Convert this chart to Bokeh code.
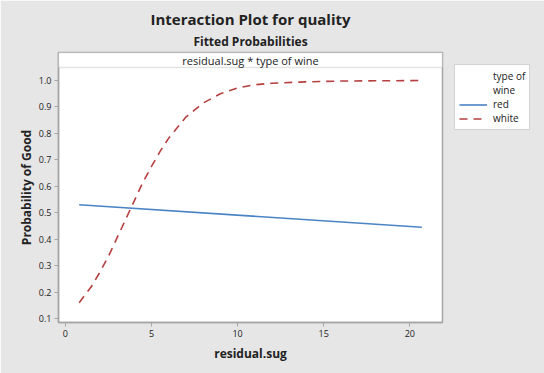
from bokeh.plotting import figure
from bokeh.models import (Legend, LegendItem, Label, BoxAnnotation, FixedTicker, Title, Range1d,
                          NumeralTickFormatter)
from bokeh.embed import file_html
from bokeh.resources import INLINE

# data
red_x = [0.8, 20.7]
red_y = [0.530, 0.445]
white_x = [0.8, 1.5, 2.0, 2.5, 3.0, 3.5, 4.0, 4.5, 5.0, 5.5, 6.0, 7.0, 8.0, 9.0, 10.0, 11.0, 12.0, 14.0, 16.0, 18.0, 20.7]
white_y = [0.160, 0.220, 0.275, 0.335, 0.405, 0.475, 0.545, 0.615, 0.675, 0.732, 0.782, 0.862, 0.915, 0.950, 0.972, 0.984, 0.990, 0.995, 0.998, 0.999, 1.000]
x_ticks = [0, 5, 10, 15, 20]
y_ticks = [0.1, 0.2, 0.3, 0.4, 0.5, 0.6, 0.7, 0.8, 0.9, 1.0]
legend_title_lines = ["type of", "wine"]

FONT = "Open Sans"
BG = "#e6e6e6"
GRID = "#a6a6a6"

p = figure(frame_width=384, frame_height=270, output_backend="svg", toolbar_location=None,
           x_range=Range1d(-0.4, 21.9), y_range=Range1d(0.085, 1.106),
           min_border_left=58, min_border_right=5, min_border_top=52, min_border_bottom=51)
p.background_fill_color = "white"
p.border_fill_color = BG
p.outline_line_color = GRID
p.outline_line_width = 1.5
p.grid.visible = False

# strip header inside frame
p.add_layout(BoxAnnotation(bottom=1.049, fill_color="white", fill_alpha=1,
                           line_color=GRID, line_width=1.5))
p.add_layout(Label(x=10.75, y=1.077, text="residual.sug * type of wine",
                   text_align="center", text_baseline="middle",
                   text_font=FONT, text_font_size="11px", text_color="#222222"))

r_red = p.line(red_x, red_y, line_color="#4a84c4", line_width=1.6)
r_white = p.line(white_x, white_y, line_color="#b5403f", line_width=1.6, line_dash="8 6")
r_blank = p.line(x=[], y=[], line_alpha=0)

for ax in (p.xaxis[0], p.yaxis[0]):
    ax.axis_line_color = GRID
    ax.axis_line_width = 1.5
    ax.major_tick_line_color = GRID
    ax.major_tick_in = 0
    ax.major_tick_out = 4
    ax.minor_tick_line_color = None
    ax.major_label_text_font = FONT
    ax.major_label_text_font_size = "9px"
    ax.major_label_text_color = "#222222"
    ax.axis_label_text_font = FONT
    ax.axis_label_text_font_size = "12px"
    ax.axis_label_text_font_style = "bold"
    ax.axis_label_text_color = "#222222"
    ax.major_label_standoff = 3

p.xaxis.ticker = FixedTicker(ticks=x_ticks)
p.yaxis.ticker = FixedTicker(ticks=y_ticks)
p.yaxis.formatter = NumeralTickFormatter(format="0.0")
p.xaxis.axis_label = "residual.sug"
p.yaxis.axis_label = "Probability of Good"
p.xaxis.axis_label_standoff = 5
p.yaxis.axis_label_standoff = 1

# titles
p.add_layout(Title(text="Fitted Probabilities", align="center", text_font=FONT,
                   text_font_size="12px", text_font_style="bold", text_color="#222222",
                   standoff=5), "above")
p.add_layout(Title(text="Interaction Plot for quality", align="center", text_font=FONT,
                   text_font_size="15px", text_font_style="bold", text_color="#222222",
                   standoff=0), "above")

items = [LegendItem(label=t, renderers=[r_blank]) for t in legend_title_lines]
items += [LegendItem(label="red", renderers=[r_red]),
          LegendItem(label="white", renderers=[r_white])]
legend = Legend(items=items, location="top_left", orientation="vertical")
legend.label_text_font = FONT
legend.label_text_font_size = "10px"
legend.label_text_color = "#222222"
legend.label_height = 13
legend.glyph_height = 13
legend.glyph_width = 28
legend.label_standoff = 6
legend.padding = 4
legend.spacing = 0
legend.margin = 12
legend.border_line_color = GRID
legend.border_line_width = 1.5
legend.background_fill_color = "white"
legend.background_fill_alpha = 1
p.add_layout(legend, "right")

open("out.html", "w").write(file_html(p, INLINE))
